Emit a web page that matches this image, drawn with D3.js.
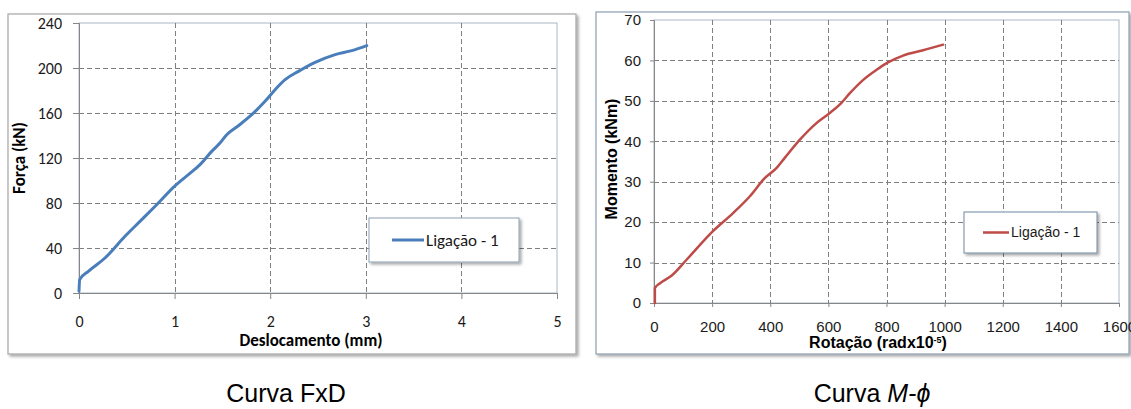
<!DOCTYPE html>
<html><head><meta charset="utf-8">
<script src="https://cdn.jsdelivr.net/npm/d3@7"></script>
<style>body{margin:0;background:#fff;}svg{display:block;}</style>
</head><body>
<svg id="c" width="1131" height="409"></svg>
<script>
// ---- data ----
const fxdDesloc = [0, 0.007, 0.098, 0.272, 0.481, 0.656, 0.83, 0.998, 1.144, 1.266, 1.388, 1.475, 1.545, 1.667, 1.807, 1.946, 2.051, 2.156, 2.295, 2.47, 2.679, 2.853, 3.01];
const fxdForca  = [1.5, 11.9, 19.3, 31.1, 50.4, 65.2, 80, 94.8, 105.2, 114.1, 125.9, 133.3, 140.7, 148.7, 158.5, 170.4, 180.7, 189.6, 197, 205, 211.9, 215.4, 219.9];
const mphiRot    = [3, 3, 21, 61, 112, 202, 273, 330, 380, 422, 450, 502, 559, 605, 645, 674, 720, 766, 802, 857, 926, 995];
const mphiMoment = [0, 3.7, 4.9, 6.8, 10.7, 17.7, 22.3, 26.4, 30.8, 33.4, 35.9, 40.4, 44.5, 47, 49.5, 51.9, 55.2, 57.7, 59.4, 61.2, 62.5, 63.9];
const fxdXTicks = [0, 1, 2, 3, 4, 5];
const fxdYTicks = [0, 40, 80, 120, 160, 200, 240];
const mphiXTicks = [0, 200, 400, 600, 800, 1000, 1200, 1400, 1600];
const mphiYTicks = [0, 10, 20, 30, 40, 50, 60, 70];
const seriesName = "Ligação - 1";

const svg = d3.select("#c");
const defs = svg.append("defs");
const f = defs.append("filter").attr("id","sh").attr("x","-10%").attr("y","-10%").attr("width","130%").attr("height","130%");
f.append("feGaussianBlur").attr("in","SourceAlpha").attr("stdDeviation",1.5);
f.append("feOffset").attr("dx",2).attr("dy",2).attr("result","o");
f.append("feComponentTransfer").append("feFuncA").attr("type","linear").attr("slope",0.35);
const fm = f.append("feMerge"); fm.append("feMergeNode"); fm.append("feMergeNode").attr("in","SourceGraphic");

function chart(o){
  const g = svg.append("g");
  g.append("rect").attr("x",o.frame[0]).attr("y",o.frame[1]).attr("width",o.frame[2]-o.frame[0]).attr("height",o.frame[3]-o.frame[1])
    .attr("fill","#fff").attr("stroke",o.frameColor).attr("stroke-width",1.2).attr("filter","url(#sh)");
  const x = d3.scaleLinear().domain(o.xDom).range([o.pl, o.pr]);
  const y = d3.scaleLinear().domain(o.yDom).range([o.pb, o.pt]);
  g.append("rect").attr("x",o.pl).attr("y",o.pt).attr("width",o.pr-o.pl).attr("height",o.pb-o.pt)
    .attr("fill","#fff").attr("stroke",o.plotBorder).attr("stroke-width",1);
  // grid
  g.append("g").selectAll("line").data(o.xTicks.filter(v=>v>o.xDom[0] && v<o.xDom[1])).join("line")
    .attr("x1",d=>Math.round(x(d))+0.5).attr("x2",d=>Math.round(x(d))+0.5).attr("y1",o.pt).attr("y2",o.pb)
    .attr("stroke","#7f7f7f").attr("stroke-dasharray","5,3").attr("stroke-width",1);
  g.append("g").selectAll("line").data(o.yTicks.filter(v=>v>o.yDom[0] && v<o.yDom[1])).join("line")
    .attr("y1",d=>Math.round(y(d))+0.5).attr("y2",d=>Math.round(y(d))+0.5).attr("x1",o.pl).attr("x2",o.pr)
    .attr("stroke","#7f7f7f").attr("stroke-dasharray","5,3").attr("stroke-width",1);
  // axes
  const ax = g.append("g").attr("transform",`translate(0,${o.pb})`)
    .call(d3.axisBottom(x).tickValues(o.xTicks).tickSize(o.tick).tickPadding(o.xPad).tickFormat(d3.format("d")));
  const ay = g.append("g").attr("transform",`translate(${o.pl},0)`)
    .call(d3.axisLeft(y).tickValues(o.yTicks).tickSize(o.tick).tickPadding(o.yPad).tickFormat(d3.format("d")));
  [ax,ay].forEach(a=>{
    a.select(".domain").attr("stroke","#868686");
    a.selectAll(".tick line").attr("stroke","#868686");
    a.selectAll("text").attr("font-family",o.font).attr("font-size",o.tickSize).attr("fill","#1a1a1a");
  });
  // line
  const pts = o.xs.map((v,i)=>[v,o.ys[i]]);
  g.append("path").datum(pts).attr("fill","none").attr("stroke",o.color).attr("stroke-width",o.lw)
    .attr("stroke-linejoin","round").attr("stroke-linecap","round")
    .attr("d",d3.line().x(d=>x(d[0])).y(d=>y(d[1])).curve(d3.curveMonotoneX));
  // titles
  const xt = g.append("text").attr("x",o.xTitlePos[0]).attr("y",o.xTitlePos[1]).attr("text-anchor","middle")
    .attr("font-family",o.font).attr("font-weight","bold").attr("font-size",o.titleSize).attr("fill","#000");
  o.xTitle(xt);
  g.append("text").attr("transform",`translate(${o.yTitlePos[0]},${o.yTitlePos[1]}) rotate(-90)`).attr("text-anchor","middle")
    .attr("font-family",o.font).attr("font-weight","bold").attr("font-size",o.titleSize).attr("fill","#000").text(o.yTitle);
  // legend
  const L = o.legend;
  g.append("rect").attr("x",L[0]).attr("y",L[1]).attr("width",L[2]-L[0]).attr("height",L[3]-L[1])
    .attr("fill","#fff").attr("stroke",o.legendBorder).attr("stroke-width",1).attr("filter","url(#sh)");
  const ly = (L[1]+L[3])/2;
  g.append("line").attr("x1",o.legLine[0]).attr("x2",o.legLine[1]).attr("y1",ly).attr("y2",ly).attr("stroke",o.color).attr("stroke-width",o.lw);
  g.append("text").attr("x",o.legLine[1]+2).attr("y",ly).attr("dy","0.35em").attr("font-family",o.font).attr("font-size",o.legSize).attr("fill","#1a1a1a").text(seriesName);
}

chart({
  frame:[8,14,576,354], frameColor:"#a6a6a6", plotBorder:"#a9b8c8",
  xDom:[0,5], yDom:[0,240], pl:79, pr:557, pt:23, pb:293,
  xTicks:fxdXTicks, yTicks:fxdYTicks, tick:6, xPad:17, yPad:11,
  font:"Carlito, Lato, 'Open Sans', sans-serif", tickSize:"16px", titleSize:"17px",
  xs:fxdDesloc, ys:fxdForca, color:"#4a7ebb", lw:3,
  xTitlePos:[311,346], xTitle:t=>t.text("Deslocamento (mm)"),
  yTitlePos:[25,158], yTitle:"Força (kN)",
  legend:[369,218,519,262], legendBorder:"#8da0b6", legLine:[392,424], legSize:"17px"
});

chart({
  frame:[596,12,1129,354], frameColor:"#8c9fb2", plotBorder:"#a9b8c8",
  xDom:[0,1600], yDom:[0,70], pl:654, pr:1119, pt:20, pb:303,
  xTicks:mphiXTicks, yTicks:mphiYTicks, tick:4, xPad:14, yPad:9,
  font:"'Liberation Sans', Arial, sans-serif", tickSize:"15px", titleSize:"16px",
  xs:mphiRot, ys:mphiMoment, color:"#be4b48", lw:2.5,
  xTitlePos:[878,348], xTitle:t=>{ t.append("tspan").text("Rotação (radx10"); t.append("tspan").attr("font-size","9px").attr("dy","-5").text("-5"); t.append("tspan").attr("dy","5").text(")"); },
  yTitlePos:[617,159], yTitle:"Momento (kNm)",
  legend:[964,212,1097,253], legendBorder:"#6f88a3", legLine:[983,1009], legSize:"14px"
});

// captions
svg.append("text").attr("x",286).attr("y",402).attr("text-anchor","middle").attr("font-family","'Liberation Sans', Arial, sans-serif")
  .attr("font-size","25px").attr("fill","#000").text("Curva FxD");
const cap2 = svg.append("text").attr("x",872).attr("y",402).attr("text-anchor","middle").attr("font-family","'Liberation Sans', Arial, sans-serif")
  .attr("font-size","25px").attr("fill","#000");
cap2.append("tspan").text("Curva ");
cap2.append("tspan").attr("font-style","italic").text("M-ϕ");
</script>
</body></html>
